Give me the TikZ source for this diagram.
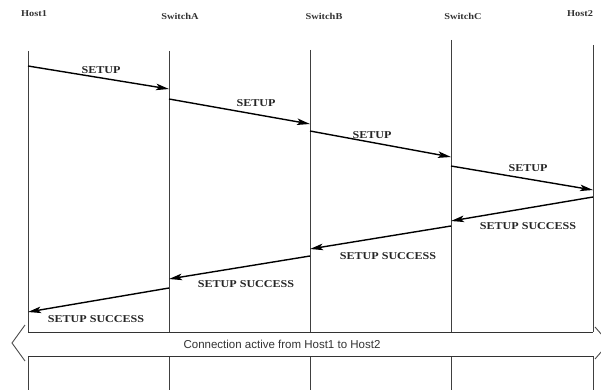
\documentclass[tikz,border=0pt]{standalone}
\usepackage{fontspec}
\setmainfont{Liberation Serif}
\setsansfont{Liberation Sans}
\newfontfamily\msgfont{Liberation Serif}[FakeStretch=1.15]
\usetikzlibrary{arrows.meta}
\begin{document}
\begin{tikzpicture}[x=1pt,y=-1pt,
  lifeline/.style={draw=black!75,line width=0.9pt},
  msg/.style={draw=black,line width=1.4pt,-{Stealth[length=13pt,width=6.5pt,inset=3pt]}},
  msglabel/.style={font=\msgfont\bfseries\fontsize{10.5}{12}\selectfont,text=black!85,inner sep=0pt},
  entity/.style={font=\msgfont\bfseries\fontsize{9}{11}\selectfont,text=black!80,inner sep=0pt},
  barline/.style={draw=black!80,line width=1pt},
  bracket/.style={draw=black!70,line width=0.9pt}]
\useasboundingbox (0,0) rectangle (601,390);
\clip (0,0) rectangle (601,390);
\fill[white] (0,0) rectangle (601,390);

% participants
\node[entity] (host1) at (34,14) {Host1};
\node[entity] (swa) at (180,16) {SwitchA};
\node[entity] (swb) at (324,16) {SwitchB};
\node[entity] (swc) at (463,16) {SwitchC};
\node[entity] (host2) at (580,14) {Host2};

% lifeline tops
\coordinate (h1t) at (28,51);
\coordinate (sat) at (169,51);
\coordinate (sbt) at (310,50);
\coordinate (sct) at (451,40);
\coordinate (h2t) at (593,45);
% lifelines stop at the connection bar and resume below it
\coordinate (h1m) at (28,332);  \coordinate (h1n) at (28,356);  \coordinate (h1b) at (28,390);
\coordinate (sam) at (169,332); \coordinate (san) at (169,356); \coordinate (sab) at (169,390);
\coordinate (sbm) at (310,332); \coordinate (sbn) at (310,356); \coordinate (sbb) at (310,390);
\coordinate (scm) at (451,332); \coordinate (scn) at (451,356); \coordinate (scb) at (451,390);
\coordinate (h2m) at (593,332); \coordinate (h2n) at (593,356); \coordinate (h2b) at (593,390);

\foreach \a/\b/\c/\d in {h1t/h1m/h1n/h1b, sat/sam/san/sab, sbt/sbm/sbn/sbb, sct/scm/scn/scb, h2t/h2m/h2n/h2b}{
  \draw[lifeline] (\a) -- (\b);
  \draw[lifeline] (\c) -- (\d);
}

% SETUP messages
\coordinate (s1a) at (28,66);   \coordinate (s1b) at (169,89);
\coordinate (s2a) at (169,99);  \coordinate (s2b) at (310,124);
\coordinate (s3a) at (310,131); \coordinate (s3b) at (451,157);
\coordinate (s4a) at (451,166); \coordinate (s4b) at (593,190);
\draw[msg] (s1a) -- (s1b);
\draw[msg] (s2a) -- (s2b);
\draw[msg] (s3a) -- (s3b);
\draw[msg] (s4a) -- (s4b);
\node[msglabel] (l1) at (101,70) {SETUP};
\node[msglabel] (l2) at (256,103) {SETUP};
\node[msglabel] (l3) at (372,135) {SETUP};
\node[msglabel] (l4) at (528,168) {SETUP};

% SETUP SUCCESS messages
\coordinate (r1a) at (593,197); \coordinate (r1b) at (451,221);
\coordinate (r2a) at (451,226); \coordinate (r2b) at (310,249);
\coordinate (r3a) at (310,256); \coordinate (r3b) at (169,279);
\coordinate (r4a) at (169,288); \coordinate (r4b) at (28,312);
\draw[msg] (r1a) -- (r1b);
\draw[msg] (r2a) -- (r2b);
\draw[msg] (r3a) -- (r3b);
\draw[msg] (r4a) -- (r4b);
\node[msglabel] (k1) at (528,226) {SETUP SUCCESS};
\node[msglabel] (k2) at (388,256) {SETUP SUCCESS};
\node[msglabel] (k3) at (246,284) {SETUP SUCCESS};
\node[msglabel] (k4) at (96,319) {SETUP SUCCESS};

% connection bar
\draw[barline] (h1m) -- (h2m);
\draw[barline] (h1n) -- (h2n);
\coordinate (lb1) at (25,325); \coordinate (lb2) at (12,343); \coordinate (lb3) at (25,361);
\coordinate (rb1) at (595,327); \coordinate (rb2) at (609,343); \coordinate (rb3) at (595,359);
\draw[bracket] (lb1) -- (lb2) -- (lb3);
\draw[bracket] (rb1) -- (rb2) -- (rb3);
\node[font=\sffamily\fontsize{11.5}{13}\selectfont,text=black!80,inner sep=0pt] (conn) at (282,344)
  {Connection active from Host1 to Host2};
\end{tikzpicture}
\end{document}
